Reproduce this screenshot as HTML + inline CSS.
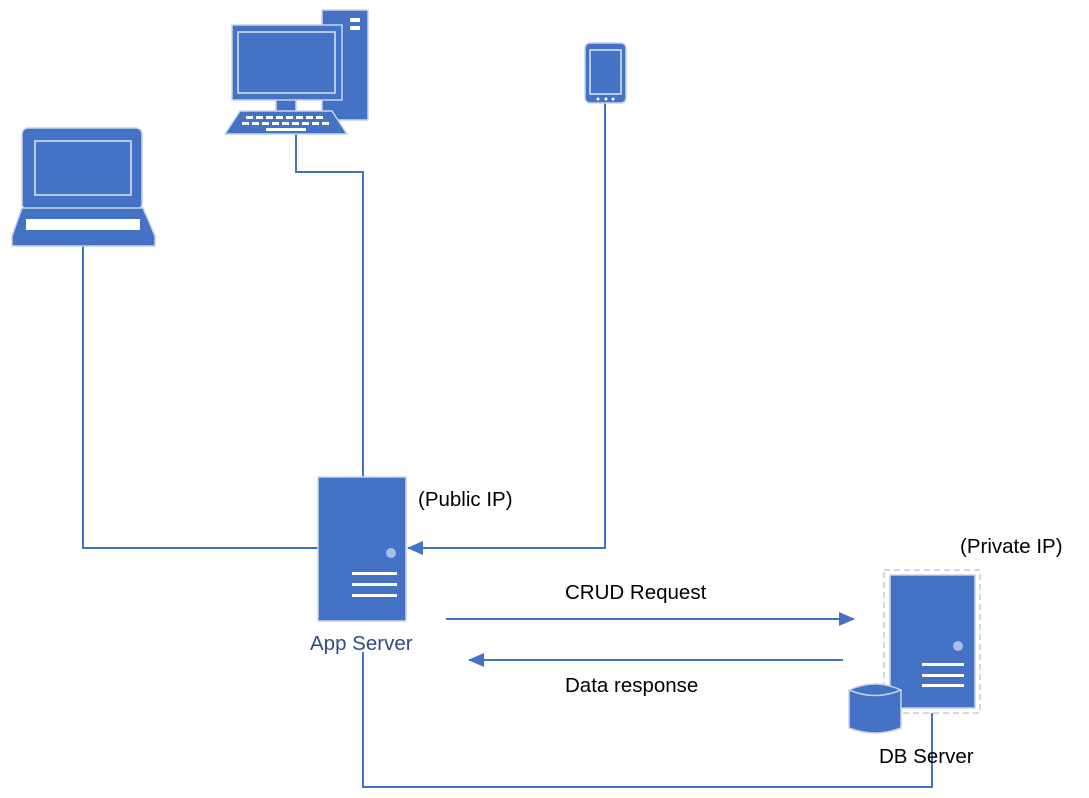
<!DOCTYPE html><html><head><style>body{margin:0;background:#fff}svg{display:block}text{font-family:"Liberation Sans",sans-serif;font-size:20.5px}</style></head><body>
<svg width="1089" height="798" viewBox="0 0 1089 798">
<defs><marker id="a" markerWidth="16" markerHeight="16" refX="15" refY="8" orient="auto" markerUnits="userSpaceOnUse"><path d="M0,1L16,8L0,15z" fill="#4472C4"/></marker></defs>
<g fill="none" stroke="#4472C4" stroke-width="2">
<polyline points="83,246 83,548 318,548"/>
<polyline points="296,133 296,172 363,172 363,477"/>
<polyline points="605,103 605,548 408,548" marker-end="url(#a)"/>
<line x1="446" y1="619" x2="854" y2="619" marker-end="url(#a)"/>
<line x1="843" y1="660" x2="469" y2="660" marker-end="url(#a)"/>
<polyline points="363,652 363,787 932,787 932,708"/>
</g>
<rect x="884" y="570" width="96" height="143" fill="#fff" stroke="#ccc" stroke-width="1.5" stroke-dasharray="6,4"/>
<g fill="#4472C4" stroke="#c9d3e6" stroke-width="1.5">
<rect x="22" y="128" width="120" height="82" rx="6"/>
<rect x="35" y="141" width="96" height="54" stroke="#dfe6f3"/>
<path d="M22,208 H143 L155,236 V246 H12 V236 Z"/>
<rect x="322" y="10" width="46" height="110"/>
<rect x="276" y="98" width="20" height="14"/>
<rect x="232" y="25" width="110" height="75"/>
<rect x="238" y="32" width="97" height="61" stroke="#dfe6f3"/>
<path d="M240,111 H332 L347,134 H225 Z"/>
<rect x="585" y="43" width="41" height="60" rx="5"/>
<rect x="590" y="50" width="31" height="44" stroke="#dfe6f3"/>
<rect x="318" y="477" width="88" height="144"/>
<rect x="890" y="575" width="85" height="133"/>
<path d="M849,690 Q875,678 901,690 V728 Q875,738 849,728 Z"/>
<path d="M849,690 Q875,701 901,690" fill="none"/>
</g>
<g fill="#fff">
<rect x="26" y="219" width="114" height="11"/>
<rect x="350" y="18" width="10" height="4"/><rect x="350" y="26" width="10" height="4"/>
<rect x="246" y="116" width="7" height="3"/><rect x="256" y="116" width="7" height="3"/><rect x="266" y="116" width="7" height="3"/><rect x="276" y="116" width="7" height="3"/><rect x="286" y="116" width="7" height="3"/><rect x="296" y="116" width="7" height="3"/><rect x="306" y="116" width="7" height="3"/><rect x="316" y="116" width="7" height="3"/>
<rect x="242" y="122" width="7" height="3"/><rect x="252" y="122" width="7" height="3"/><rect x="262" y="122" width="7" height="3"/><rect x="272" y="122" width="7" height="3"/><rect x="282" y="122" width="7" height="3"/><rect x="292" y="122" width="7" height="3"/><rect x="302" y="122" width="7" height="3"/><rect x="312" y="122" width="7" height="3"/><rect x="322" y="122" width="7" height="3"/>
<rect x="266" y="128" width="40" height="3"/>
<circle cx="391" cy="553" r="5" fill="#a9bde6"/>
<rect x="352" y="572" width="45" height="3"/><rect x="352" y="583" width="45" height="3"/><rect x="352" y="594" width="45" height="3"/>
<circle cx="958" cy="646" r="5" fill="#a9bde6"/>
<rect x="922" y="663" width="42" height="3"/><rect x="922" y="674" width="42" height="3"/><rect x="922" y="684" width="42" height="3"/>
<circle cx="598" cy="99" r="1.5"/><circle cx="606" cy="99" r="1.5"/><circle cx="613" cy="99" r="1.5"/>
</g>
<text x="418" y="506">(Public IP)</text>
<text x="960" y="553">(Private IP)</text>
<text x="565" y="599">CRUD Request</text>
<text x="565" y="692">Data response</text>
<text x="310" y="650" fill="#2f4b80">App Server</text>
<text x="879" y="763">DB Server</text>
</svg></body></html>
